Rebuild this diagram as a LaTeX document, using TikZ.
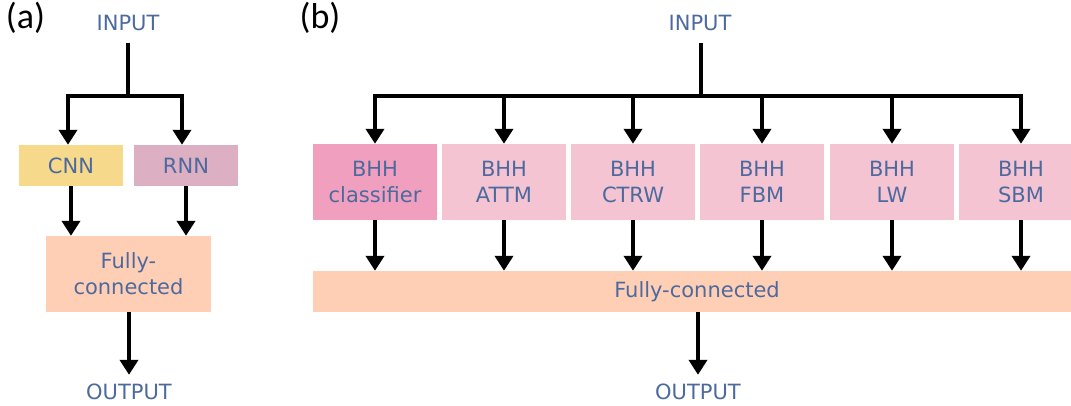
\documentclass[tikz,border=0pt]{standalone}
\usepackage{fontspec}
\setmainfont{DejaVu Sans}
\newfontfamily\labfont{Carlito}
\usetikzlibrary{arrows.meta}
\definecolor{txtblue}{RGB}{77,106,158}
\definecolor{cnncol}{RGB}{247,217,139}
\definecolor{rnncol}{RGB}{220,175,194}
\definecolor{fccol}{RGB}{255,207,181}
\definecolor{clscol}{RGB}{240,159,191}
\definecolor{bhhcol}{RGB}{244,196,210}
\begin{document}
\begin{tikzpicture}[x=1pt,y=-1pt,
  lbl/.style={font=\fontsize{21}{26}\selectfont, text=txtblue, inner sep=0pt, align=center},
  io/.style={lbl, text height=15pt, text depth=0pt},
  box/.style={lbl, minimum height=#1},
  conn/.style={line width=4pt, line join=miter},
  arr/.style={conn, -{Triangle[width=18pt,length=15pt]}},
  panel/.style={font=\labfont\fontsize{36}{36}\selectfont, inner sep=0pt}
]
\clip (0,0) rectangle (1071,405);
% ---------- (a) ----------
\node[panel] (la) at (25.5,18) {(a)};
\node[io] (inA) at (128,22.5) {INPUT};
\node[io] (outA) at (129,391.5) {OUTPUT};
\node[box=41pt, fill=cnncol, minimum width=104pt] (cnn) at (71,165.5) {CNN};
\node[box=41pt, fill=rnncol, minimum width=104pt] (rnn) at (186,165.5) {RNN};
\node[box=76pt, fill=fccol, minimum width=165pt] (fcA) at (128.5,274) {Fully-\\connected};
\coordinate (jA) at (128,96);
\draw[conn, shorten <=12.5pt] (inA.south) -- (jA);
\draw[arr] (jA) -| ([xshift=-3pt]cnn.north);
\draw[arr] (jA) -| ([xshift=-4pt]rnn.north);
\draw[arr] (cnn.south) -- (cnn.south |- fcA.north);
\draw[arr] (rnn.south) -- (rnn.south |- fcA.north);
\draw[arr] ([xshift=0.5pt]fcA.south) -- ([yshift=9pt]outA.north);
% ---------- (b) ----------
\node[panel] (lb) at (320,18) {(b)};
\node[io] (inB) at (700,22.5) {INPUT};
\node[io] (outB) at (698,391.5) {OUTPUT};
\node[box=76pt, fill=clscol, minimum width=124pt] (b1) at (375,182) {BHH\\classifier};
\node[box=76pt, fill=bhhcol, minimum width=124pt] (b2) at (504,182) {BHH\\ATTM};
\node[box=76pt, fill=bhhcol, minimum width=124pt] (b3) at (633,182) {BHH\\CTRW};
\node[box=76pt, fill=bhhcol, minimum width=124pt] (b4) at (762,182) {BHH\\FBM};
\node[box=76pt, fill=bhhcol, minimum width=124pt] (b5) at (892,182) {BHH\\LW};
\node[box=76pt, fill=bhhcol, minimum width=124pt] (b6) at (1021,182) {BHH\\SBM};
\node[box=41pt, fill=fccol, minimum width=768pt] (fcB) at (697,291.5) {Fully-connected};
\coordinate (jB) at (701,96);
\draw[conn, shorten <=12.5pt] (inB.south -| jB) -- (jB);
\foreach \b in {b1,b2,b3,b4,b5,b6}{
  \draw[arr] (jB) -| (\b.north);
  \draw[arr] (\b.south) -- (\b.south |- fcB.north);
}
\draw[arr] ([xshift=1pt]fcB.south) -- ([yshift=9pt]outB.north);
\end{tikzpicture}
\end{document}
